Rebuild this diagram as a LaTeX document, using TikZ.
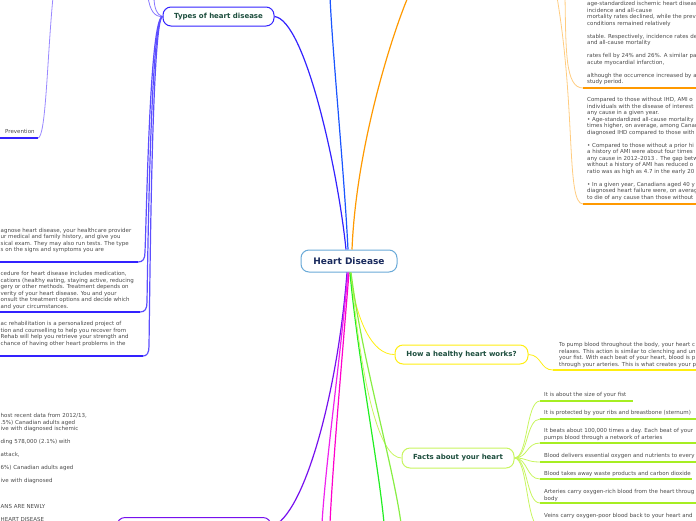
\documentclass[tikz,border=0pt]{standalone}
\usepackage{fontspec}
\setmainfont{DejaVu Sans}
\definecolor{centerblue}{HTML}{6AAAD8}
\definecolor{centertext}{HTML}{1A2B5E}
\definecolor{topictext}{HTML}{1D4E3E}
\definecolor{bodygray}{HTML}{4A4A4A}
\definecolor{typesblue}{HTML}{3322FF}
\definecolor{typeslight}{HTML}{8877FF}
\definecolor{topblue}{HTML}{1A55FF}
\definecolor{orangemain}{HTML}{FF9900}
\definecolor{orangelight}{HTML}{FFCC80}
\definecolor{yellowmain}{HTML}{FFEE11}
\definecolor{limemain}{HTML}{A6EE22}
\definecolor{limelight}{HTML}{C8F560}
\definecolor{greenmain}{HTML}{22EE22}
\definecolor{greenlight}{HTML}{88EE44}
\definecolor{magA}{HTML}{EE22EE}
\definecolor{magB}{HTML}{FF00CC}
\definecolor{purplemain}{HTML}{7711EE}
\definecolor{prevlight}{HTML}{9988FF}
\begin{document}
\begin{tikzpicture}[x=1pt,y=-1pt,
  body/.style={font=\fontsize{5.5}{6.5}\selectfont, text=bodygray, inner sep=0pt, align=left, anchor=north west},
  topic/.style={draw, rounded corners=8pt, line width=1pt, fill=white, inner sep=0pt,
    font=\fontsize{7}{8}\selectfont\bfseries, text=topictext, minimum height=19pt},
  conn/.style={line width=1.2pt},
  thinconn/.style={line width=0.8pt},
  uline/.style={line width=1.5pt},
]
\useasboundingbox (0,0) rectangle (696,520);

% ---------- nodes ----------
\node[topic, draw=centerblue, text=centertext, font=\fontsize{9}{10}\selectfont\bfseries,
      minimum width=96pt, minimum height=22pt] (c) at (349,261) {Heart Disease};
\node[topic, draw=typesblue, minimum width=111pt] (types) at (218.5,16.5) {Types of heart disease};
\node[topic, draw=yellowmain, minimum width=133pt] (how) at (461.5,354.5) {How a healthy heart works?};
\node[topic, draw=limelight, minimum width=112pt, minimum height=20pt] (facts) at (458,458) {Facts about your heart};
\node[topic, draw=purplemain, minimum width=154pt] (bl) at (194,527) {};

% free ends
\coordinate (topB) at (330,-3);
\coordinate (topO) at (408,-3);
\coordinate (mag1) at (322,523);
\coordinate (mag2) at (330,523);
\coordinate (grn) at (384,523);
\coordinate (lim) at (401,523);
\coordinate (typUp1) at (148,-3);
\coordinate (typUp2) at (154,-3);
\coordinate (prevUp) at (53,-3);
\coordinate (or1Up) at (565,-3);
\coordinate (or2Up) at (557,-3);

% ---------- main branches ----------
\draw[conn, topblue] ([xshift=-1pt]c.north) .. controls (344,170) and (333,60) .. (topB);
\draw[conn, typesblue] ([xshift=-3pt]c.north) .. controls (338,170) and (305,20) .. (types.east);
\draw[conn, orangemain] ([xshift=3pt]c.north) .. controls (356,150) and (390,40) .. (topO);
\draw[conn, purplemain] ([xshift=-2pt]c.south) .. controls (338,390) and (305,515) .. (bl.east);
\draw[conn, magA] ([xshift=-1pt]c.south) .. controls (340,360) and (326,460) .. (mag1);
\draw[conn, magB] (c.south) .. controls (342,360) and (333,460) .. (mag2);
\draw[thinconn, yellowmain] ([xshift=1pt]c.south) .. controls (356,320) and (372,355) .. (how.west);
\draw[conn, greenmain] ([xshift=1pt]c.south) .. controls (358,360) and (378,460) .. (grn);
\draw[thinconn, limelight] ([xshift=2pt]c.south) .. controls (362,390) and (380,458) .. (facts.west);
\draw[conn, greenlight] ([xshift=2pt]c.south) .. controls (362,360) and (392,460) .. (lim);

% ---------- Types of heart disease ----------
\draw[thinconn, typeslight] (types.west) .. controls (154,17) and (150,10) .. (typUp1);
\draw[thinconn, typeslight] (types.west) .. controls (157,15) and (154,8) .. (typUp2);

\coordinate (u1) at (0,262);
\coordinate (u2) at (0,312);
\coordinate (u3) at (0,356);
\draw[conn, typesblue!80] (types.west) .. controls (150,18) and (147,200) .. (145,252)
   .. controls (145,259) and (143,262) .. (138,262);
\draw[conn, typesblue!80] (types.west) .. controls (151,18) and (148,240) .. (147,302)
   .. controls (147,309) and (145,312) .. (140,312);
\draw[conn, typesblue!80] (types.west) .. controls (152,18) and (150,280) .. (149,346)
   .. controls (149,353) and (147,356) .. (143,356);
\draw[uline, typesblue] (138,262) -- (u1);
\draw[uline, typesblue] (140,312) -- (u2);
\draw[uline, typesblue] (143,356) -- (u3);

\node[body] (lb1) at (0.5,228) {agnose heart disease, your healthcare provider\\
ur medical and family history, and give you\\
sical exam. They may also run tests. The type\\
s on the signs and symptoms you are};
\node[body] (lb2) at (0.5,271.3) {cedure for heart disease includes medication,\\
cations (healthy eating, staying active, reducing\\
gery or other methods. Treatment depends on\\
verity of your heart disease. You and your\\
onsult the treatment options and decide which\\
and your circumstances.};
\node[body] (lb3) at (0.5,321.3) {ac rehabilitation is a personalized project of\\
tion and counselling to help you recover from\\
Rehab will help you retrieve your strength and\\
chance of having other heart problems in the};

% ---------- Prevention ----------
\node[body] (prev) at (5,129.3) {Prevention};
\coordinate (prevEnd) at (38,138);
\draw[uline, typesblue] (0,138) -- (prevEnd);
\draw[thinconn, prevlight] (prevEnd) .. controls (46,137) and (47,60) .. (prevUp);

% ---------- bottom left text ----------
\node[body] (blt) at (0.5,413.3) {host recent data from 2012/13,\\
.5\%) Canadian adults aged\\
ive with diagnosed ischemic\\
~\\
ding 578,000 (2.1\%) with\\
~\\
attack,\\
~\\
6\%) Canadian adults aged\\
~\\
ive with diagnosed\\
~\\
~\\
~\\
ANS ARE NEWLY\\
~\\
HEART DISEASE};

% ---------- orange blocks ----------
\coordinate (o1) at (583,88);
\coordinate (o2) at (583,204);
\draw[thinconn, orangelight] (or1Up) .. controls (566,50) and (565,88) .. (o1);
\draw[thinconn, orangelight] (or2Up) .. controls (576,110) and (566,204) .. (o2);
\draw[uline, orangemain] (o1) -- (700,88);
\draw[uline, orangemain] (o2) -- (700,204);
\node[body] (ob1) at (587,1.3) {age-standardized ischemic heart disease\\
incidence and all-cause\\
mortality rates declined, while the prev\\
conditions remained relatively\\
~\\
stable. Respectively, incidence rates de\\
and all-cause mortality\\
~\\
rates fell by 24\% and 26\%. A similar pa\\
acute myocardial infarction,\\
~\\
although the occurrence increased by a\\
study period.};
\node[body] (ob2) at (587,97.3) {Compared to those without IHD, AMI o\\
individuals with the disease of interest\\
any cause in a given year.\\
• Age-standardized all-cause mortality\\
times higher, on average, among Canad\\
diagnosed IHD compared to those with\\
~\\
• Compared to those without a prior hi\\
a history of AMI were about four times\\
any cause in 2012--2013 . The gap betw\\
without a history of AMI has reduced o\\
ratio was as high as 4.7 in the early 20\\
~\\
• In a given year, Canadians aged 40 y\\
diagnosed heart failure were, on averag\\
to die of any cause than those without};

% ---------- How a healthy heart works ----------
\coordinate (hw) at (553,370);
\draw[thinconn, yellowmain] (how.east) .. controls (542,355) and (540,370) .. (hw);
\draw[uline, yellowmain] (hw) -- (700,370);
\node[body] (hwt) at (559,342.3) {To pump blood throughout the body, your heart c\\
relaxes. This action is similar to clenching and un\\
your fist. With each beat of your heart, blood is p\\
through your arteries. This is what creates your p};

% ---------- Facts ----------
\foreach \yy/\xe in {401/633, 419/700, 443/700, 462/700, 479/692, 503/700, 527/700}{
  \draw[thinconn, limelight] (facts.east) .. controls (528,458) and (526,\yy) .. (540,\yy);
  \draw[uline, limemain] (540,\yy) -- (\xe,\yy);
}
\node[body] (f1) at (544,392.3) {It is about the size of your fist};
\node[body] (f2) at (544,410.3) {It is protected by your ribs and breastbone (sternum)};
\node[body] (f3) at (544,428.3) {It beats about 100,000 times a day. Each beat of your\\
pumps blood through a network of arteries};
\node[body] (f4) at (544,453.3) {Blood delivers essential oxygen and nutrients to every};
\node[body] (f5) at (544,471.3) {Blood takes away waste products and carbon dioxide};
\node[body] (f6) at (544,489.3) {Arteries carry oxygen-rich blood from the heart throug\\
body};
\node[body] (f7) at (544,513.3) {Veins carry oxygen-poor blood back to your heart and};
\end{tikzpicture}
\end{document}
